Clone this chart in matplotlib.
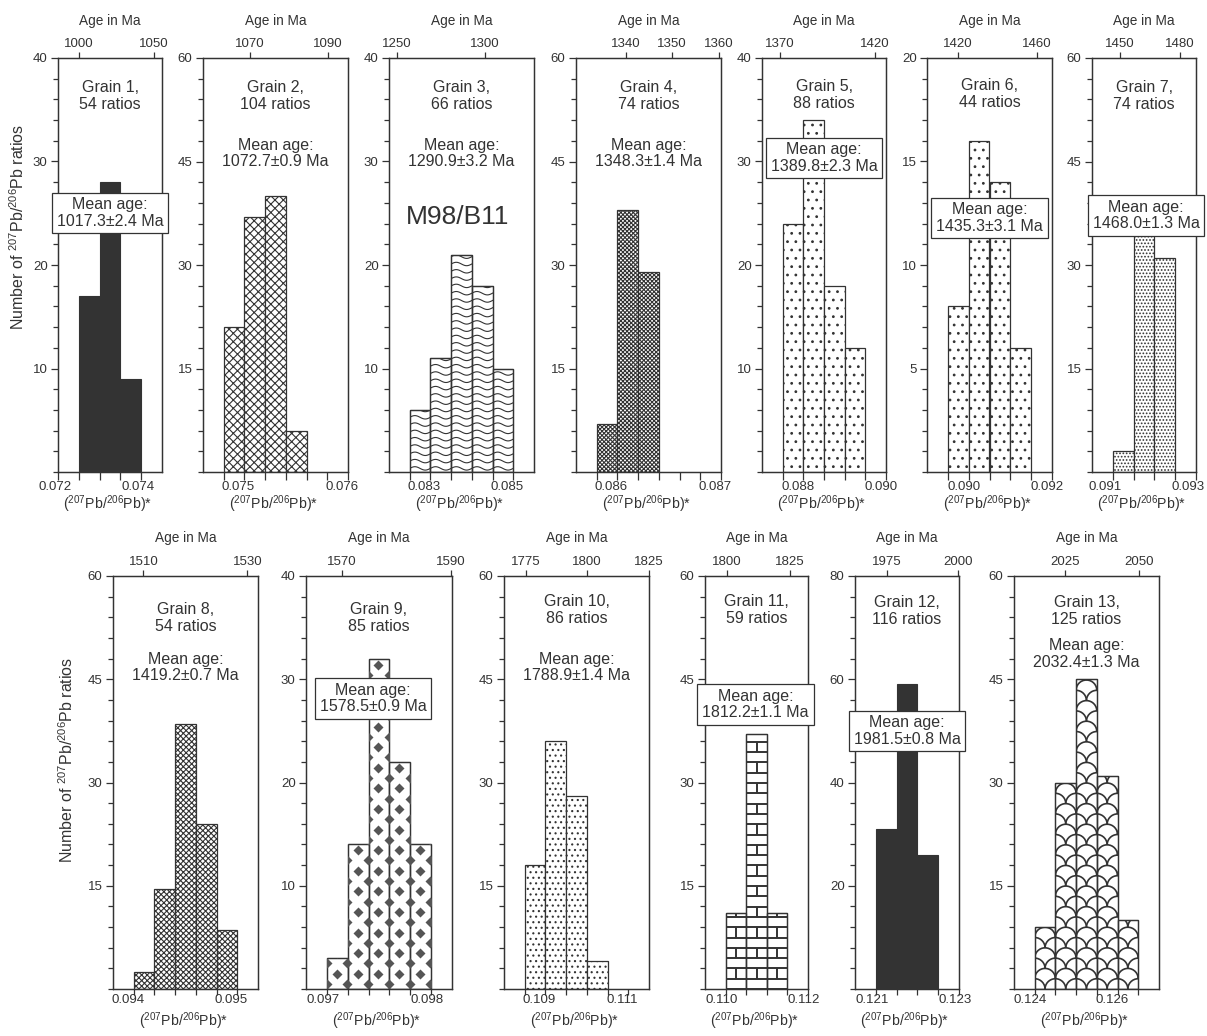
import numpy as np
import matplotlib
matplotlib.use("Agg")
import matplotlib.pyplot as plt
from matplotlib.collections import LineCollection
from matplotlib.transforms import ScaledTranslation

plt.rcParams['font.family'] = ['Liberation Sans', 'DejaVu Sans']
plt.rcParams['mathtext.fontset'] = 'custom'
plt.rcParams['mathtext.rm'] = 'Liberation Sans'
plt.rcParams['mathtext.it'] = 'Liberation Sans:italic'
plt.rcParams['hatch.linewidth'] = 0.8

# --- data ---
n_ratios = [54, 104, 66, 74, 88, 44, 74, 54, 85, 86, 59, 116, 125]
mean_age = ['1017.3±2.4', '1072.7±0.9', '1290.9±3.2', '1348.3±1.4', '1389.8±2.3',
            '1435.3±3.1', '1468.0±1.3', '1419.2±0.7', '1578.5±0.9', '1788.9±1.4',
            '1812.2±1.1', '1981.5±0.8', '2032.4±1.3']
bin_start = [0.0725, 0.0748, 0.0825, 0.0858, 0.0875, 0.0895, 0.0910,
             0.0940, 0.0970, 0.1085, 0.1100, 0.1210, 0.1240]
bin_width = [0.0005, 0.0002, 0.0005, 0.0002, 0.0005, 0.0005, 0.0005,
             0.0002, 0.0002, 0.0005, 0.0005, 0.0005, 0.0005]
counts = [
    [17, 28, 9],
    [21, 37, 40, 6],
    [6, 11, 21, 18, 10],
    [7, 38, 29],
    [24, 34, 18, 12],
    [8, 16, 14, 6],
    [3, 40, 31],
    [2.5, 14.5, 38.5, 24, 8.5],
    [3, 14, 32, 22, 14],
    [18, 36, 28, 4],
    [11, 37, 11],
    [31, 59, 26],
    [9, 30, 45, 31, 10],
]
x_ranges = [(0.072, 0.0745), (0.0746, 0.0760), (0.082, 0.0855), (0.0856, 0.0870),
            (0.087, 0.090), (0.089, 0.092), (0.0905, 0.093), (0.0938, 0.0952),
            (0.0968, 0.0982), (0.108, 0.1115), (0.1095, 0.112), (0.1205, 0.123),
            (0.1235, 0.127)]
y_max = [40, 60, 40, 60, 40, 20, 60, 60, 40, 60, 60, 80, 60]
ratio_ticks = [(0.072, 0.074), (0.075, 0.076), (0.083, 0.085), (0.086, 0.087),
               (0.088, 0.090), (0.090, 0.092), (0.091, 0.093), (0.094, 0.095),
               (0.097, 0.098), (0.109, 0.111), (0.110, 0.112), (0.121, 0.123),
               (0.124, 0.126)]
age_ticks = [(1000, 1050), (1070, 1090), (1250, 1300), (1340, 1350, 1360),
             (1370, 1420), (1420, 1460), (1450, 1480), (1510, 1530), (1570, 1590),
             (1775, 1800, 1825), (1800, 1825), (1975, 2000), (2025, 2050)]

# fill style of each grain
fills = ['solid', 'xxxx', 'wave', 'xxxxxxxx', '..', '..', '.....',
         'xxxxxx', 'diamond', '...', 'brick', 'solid', 'scale']

# --- layout in pixels (left, width, row) ---
W, H = 1207, 1036
layout = [(58, 104, 0), (203, 145, 0), (389, 145, 0), (576, 145, 0), (762, 124, 0),
          (927, 125, 0), (1092, 104, 0), (113, 145, 1), (306, 146, 1), (504, 145, 1),
          (705, 103, 1), (855, 104, 1), (1014, 145, 1)]
rows = [(58, 472), (576, 989)]
grain_y = [96, 96, 96, 96, 95, 94, 96, 618, 618, 610, 610, 611, 611]
mean_y = [213, 153.5, 153.5, 153.5, 158, 218, 215.5, 667.5, 698.5, 667.5, 704.5, 731, 654]
boxed = [True, False, False, False, True, True, True, False, True, False, True, True, False]
mean_dx = [0, 0, 0, 0, 0, 0, 2, 0, -6, 0, -1, 0, 0]
label_dx = [-3, -6, -6, -6, -5, -5, -8, -6, -4, -6, -4, -4, -5]

ink = '#333333'

# Pb-Pb age -> 207Pb/206Pb ratio
L238, L235, U = 1.55125e-10, 9.8485e-10, 137.88


def pb_ratio(t_ma):
    t = np.asarray(t_ma) * 1e6
    return (np.exp(L235 * t) - 1) / (np.exp(L238 * t) - 1) / U


def fx(px):
    return px / W


def fy(py):
    return 1 - py / H


def add_pattern(ax, bar, kind, sx, sy, xlo):
    x0 = (bar.get_x() - xlo) * sx
    x1 = x0 + bar.get_width() * sx
    h = bar.get_height() * sy
    segs = []
    lw = 0.8
    if kind == 'wave':
        for yy in np.arange(3.6, h + 7.3, 7.3):
            xs = np.linspace(x0 - 1, x1 + 1, 30)
            ys = yy + 1.7 * np.sin(2 * np.pi * xs / 20.7)
            segs.append(np.column_stack([xs, ys]))
    elif kind == 'brick':
        lw = 1.4
        rh = 10.3
        for r in range(int(h / rh) + 2):
            y = r * rh
            segs.append(np.array([[x0, y], [x1, y]]))
            off = (r % 2) * 10.35
            for xv in np.arange(off - 20.7, x1 + 21, 20.7):
                if x0 < xv < x1:
                    segs.append(np.array([[xv, y], [xv, y + rh]]))
    elif kind == 'scale':
        lw = 1.2
        rh = 10.3
        th = np.linspace(0, np.pi, 16)
        for r in range(int(h / rh) + 2):
            y = r * rh
            off = (r % 2) * 10.35
            for cx in np.arange(off - 20.7, x1 + 21, 20.7):
                segs.append(np.column_stack([cx + 10.35 * np.cos(th), y + rh * np.sin(th)]))
    elif kind == 'diamond':
        pts = []
        for r in range(int(h / 10.3) + 2):
            y = r * 10.3 + 5
            off = (r % 2) * 10.35
            for cx in np.arange(off - 20.7, x1 + 21, 20.7):
                pts.append((cx, y))
        pts = np.array(pts)
        ln, = ax.plot(pts[:, 0] / sx + xlo, pts[:, 1] / sy, 'D', ms=5.5,
                      mfc='#555555', mec='none')
        ln.set_clip_path(bar)
        return
    data = [np.column_stack([s[:, 0] / sx + xlo, s[:, 1] / sy]) for s in segs]
    lc = LineCollection(data, colors=ink, linewidths=lw)
    ax.add_collection(lc)
    lc.set_clip_path(bar)


fig = plt.figure(figsize=(W / 100, H / 100), dpi=100)

for i in range(13):
    left, wpx, row = layout[i]
    top, bot = rows[row]
    ax = fig.add_axes([fx(left), fy(bot), wpx / W, (bot - top) / H])
    xlo, xhi = x_ranges[i]
    ax.set_xlim(xlo, xhi)
    ax.set_ylim(0, y_max[i])
    sx = wpx / (xhi - xlo)
    sy = (bot - top) / y_max[i]

    edges = bin_start[i] + bin_width[i] * np.arange(len(counts[i]))
    kind = fills[i]
    if kind == 'solid':
        ax.bar(edges, counts[i], width=bin_width[i], align='edge',
               color=ink, edgecolor=ink, linewidth=0.8)
    elif kind in ('wave', 'brick', 'scale', 'diamond'):
        bars = ax.bar(edges, counts[i], width=bin_width[i], align='edge',
                      color='white', edgecolor=ink, linewidth=0.9)
        for b in bars:
            add_pattern(ax, b, kind, sx, sy, xlo)
        ax.bar(edges, counts[i], width=bin_width[i], align='edge',
               color='none', edgecolor=ink, linewidth=0.9)
    else:
        ax.bar(edges, counts[i], width=bin_width[i], align='edge',
               color='white', edgecolor=ink, linewidth=0.9, hatch=kind)

    for sp in ax.spines.values():
        sp.set_color(ink)
        sp.set_linewidth(0.9)

    # y axis
    step = y_max[i] / 4
    ax.set_yticks(np.arange(step, y_max[i] + 0.1, step))
    ax.set_yticks(np.arange(0, y_max[i] + 0.1, step / 5), minor=True)
    ax.set_yticklabels([f'{v:g}' for v in np.arange(step, y_max[i] + 0.1, step)])
    ax.tick_params(axis='y', which='major', direction='out', length=5, width=0.9,
                   pad=2.5, labelsize=9.5, colors=ink)
    ax.tick_params(axis='y', which='minor', direction='out', length=3.4, width=0.9,
                   colors=ink)

    # bottom ratio axis
    t0 = min(bin_start[i], ratio_ticks[i][0])
    t1 = max(edges[-1] + bin_width[i], ratio_ticks[i][-1])
    nt = int(round((t1 - t0) / bin_width[i]))
    xt = np.round(t0 + bin_width[i] * np.arange(nt + 1), 5)
    xt = xt[(xt >= xlo - 1e-9) & (xt <= xhi + 1e-9)]
    labs = [f'{v:.3f}' if any(abs(v - r) < 1e-7 for r in ratio_ticks[i]) else '' for v in xt]
    ax.set_xticks(xt)
    ax.set_xticklabels(labs)
    if row == 0:
        ax.tick_params(axis='x', direction='out', length=5.8, width=0.9, pad=0.5,
                       labelsize=9.5, colors=ink)
    else:
        ax.tick_params(axis='x', direction='out', length=4.3, width=0.9, pad=-0.5,
                       labelsize=9.5, colors=ink)
    shift = ScaledTranslation(label_dx[i] / 100, 0, fig.dpi_scale_trans)
    for lab in ax.get_xticklabels():
        lab.set_transform(lab.get_transform() + shift)

    # top age axis
    ax2 = ax.twiny()
    ax2.set_xlim(xlo, xhi)
    ax2.set_xticks(pb_ratio(age_ticks[i]))
    ax2.set_xticklabels([str(a) for a in age_ticks[i]])
    ax2.tick_params(axis='x', direction='out', length=4.3, width=0.9, pad=1.5,
                    labelsize=9.5, colors=ink)
    for sp in ax2.spines.values():
        sp.set_color(ink)
        sp.set_linewidth(0.9)

    cx = left + wpx / 2
    age_y = 21 if row == 0 else 538
    xl_y = 504 if row == 0 else 1021
    fig.text(fx(cx), fy(age_y), 'Age in Ma', ha='center', va='center',
             fontsize=9.8, color=ink)
    fig.text(fx(cx - 2), fy(xl_y), r'($^{207}$Pb/$^{206}$Pb)*', ha='center', va='center',
             fontsize=10.2, color=ink)

    fig.text(fx(cx), fy(grain_y[i]), f'Grain {i + 1},\n{n_ratios[i]} ratios',
             ha='center', va='center', fontsize=11.5, color=ink, linespacing=1.1)
    kw = {}
    if boxed[i]:
        kw['bbox'] = dict(boxstyle='square,pad=0.3', fc='white', ec=ink, lw=0.9)
    fig.text(fx(cx + mean_dx[i]), fy(mean_y[i]), f'Mean age:\n{mean_age[i]} Ma',
             ha='center', va='center', fontsize=11.5, color=ink, linespacing=1.1, **kw)

fig.text(fx(458), fy(217), 'M98/B11', ha='center', va='center', fontsize=19, color=ink)

fig.text(fx(18), fy(227), r'Number of $^{207}$Pb/$^{206}$Pb ratios', rotation=90,
         ha='center', va='center', fontsize=11.5, color=ink)
fig.text(fx(67), fy(760), r'Number of $^{207}$Pb/$^{206}$Pb ratios', rotation=90,
         ha='center', va='center', fontsize=11.5, color=ink)

fig.savefig('out.png', dpi=100, facecolor='white')
